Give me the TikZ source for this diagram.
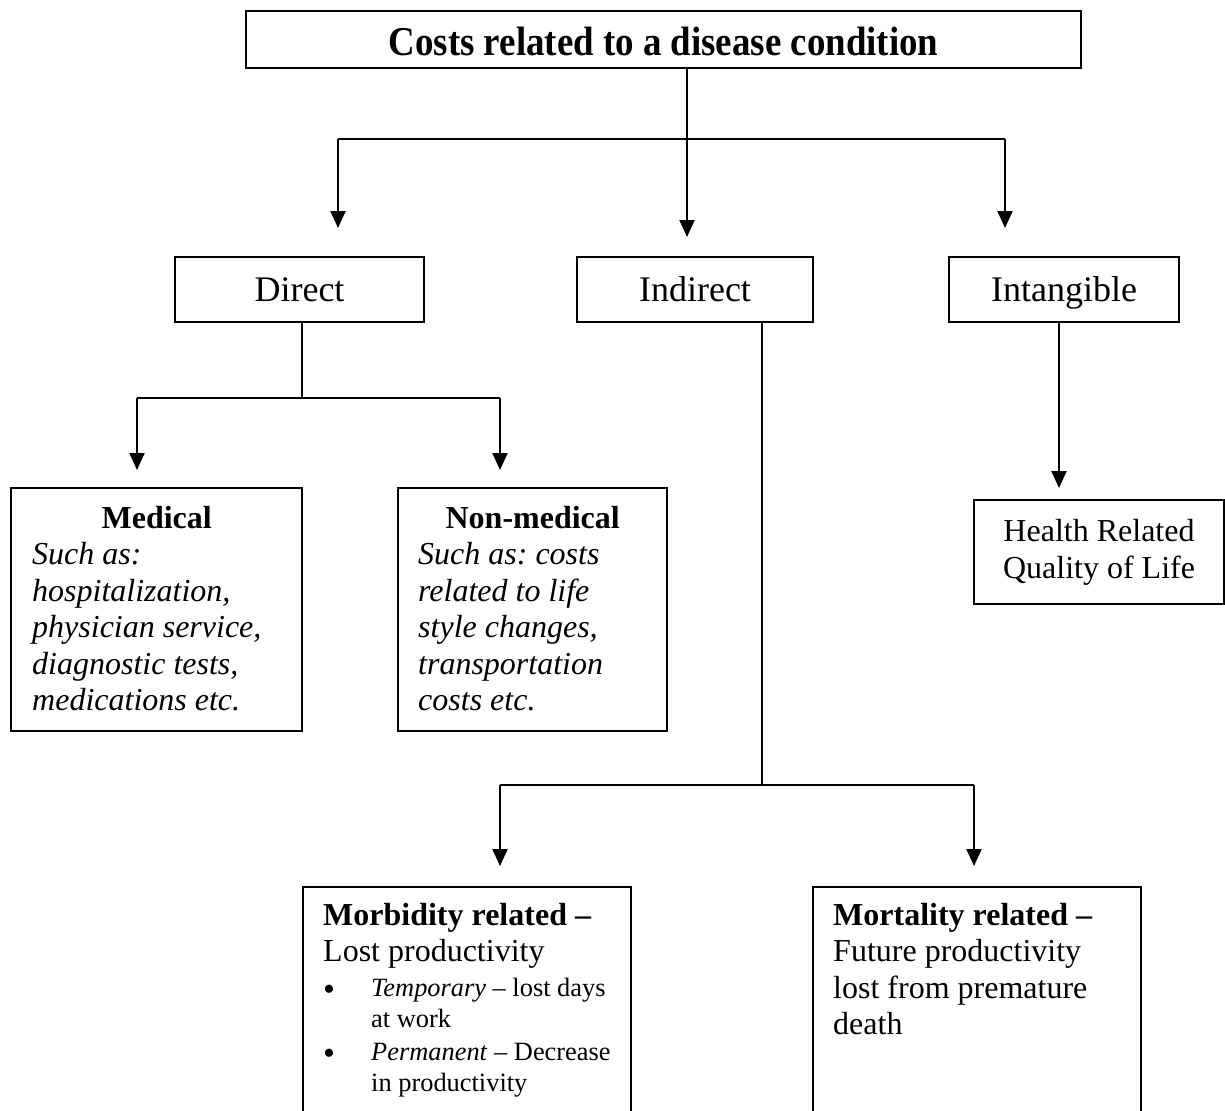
\documentclass[tikz,border=0pt]{standalone}
\usepackage{fontspec}
\setmainfont{Liberation Serif}
\newfontfamily\headfont[FakeStretch=0.9]{Liberation Serif}
\usetikzlibrary{arrows.meta}
% bullet for the list items
\newcommand{\blt}{\raisebox{-3.5pt}{\fontsize{34}{0}\selectfont\textbullet}}
% use the font's own interword spacing inside aligned nodes
\newcommand{\natspace}{\spaceskip=0pt\xspaceskip=0pt\relax}
\begin{document}
\begin{tikzpicture}[x=1pt,y=-1pt,
  box/.style={draw, line width=1.3pt, inner sep=0pt},
  headbox/.style={box, minimum height=65pt, font=\fontsize{36}{40}\selectfont,
                  text height=27pt, text depth=4pt},
  body/.style={inner sep=0pt, anchor=north west, align=left,
               font=\fontsize{32}{36.5}\selectfont\frenchspacing},
  stem/.style={line width=1.2pt},
  bar/.style={line width=1.5pt},
  arr/.style={line width=2.2pt, -{Triangle[length=17pt,width=15pt]}},
]
\useasboundingbox (0,0) rectangle (1225,1110);
\clip (0,0) rectangle (1225,1110);

% top box
\node[box, minimum width=835pt, minimum height=57pt, text height=33pt, text depth=0pt,
      font=\fontsize{41}{44}\selectfont\headfont\bfseries] (title) at (663.5,39.5)
      {Costs related to a disease condition};

% first level
\node[headbox, minimum width=249pt] (direct)     at (299.5,289.5) {Direct};
\node[headbox, minimum width=236pt] (indirect)   at (695,289.5)   {Indirect};
\node[headbox, minimum width=230pt] (intangible) at (1064,289.5)  {Intangible};

% direct costs
\node[box, minimum width=291pt, minimum height=243pt] (medical)    at (156.5,609.5) {};
\node[box, minimum width=269pt, minimum height=243pt] (nonmedical) at (532.5,609.5) {};
\node[body, text width=249pt] (medtext) at (32,506)
  {\natspace{\centering\textbf{Medical}\par}\raggedright\itshape
   Such as:\\hospitalization,\\physician service,\\diagnostic tests,\\medications etc.};
\node[body, text width=229pt] (nonmedtext) at (418,506)
  {\natspace{\centering\textbf{Non-medical}\par}\raggedright\itshape
   Such as: costs\\related to life\\style changes,\\transportation\\costs etc.};

% indirect costs
\node[box, minimum width=328pt, minimum height=300pt] (morbidity) at (467,1037) {};
\node[box, minimum width=328pt, minimum height=300pt] (mortality) at (977,1037) {};
\node[body, text width=300pt] (morbtext) at (323,903)
  {\natspace\raggedright\textbf{Morbidity related –}\\Lost productivity\par\vspace{4pt}
   {\fontsize{26.4}{31}\selectfont
    \makebox[48pt][l]{\blt}\textit{Temporary} – lost days\\
    \hspace*{48pt}at work\\[2pt]
    \makebox[48pt][l]{\blt}\textit{Permanent} – Decrease\\
    \hspace*{48pt}in productivity\par}};
\node[body, text width=300pt] (morttext) at (833,903)
  {\natspace\raggedright\textbf{Mortality related –}\\Future productivity\\lost from premature\\death};

% intangible costs
\node[box, minimum width=250pt, minimum height=104pt, align=center,
      font=\fontsize{32}{37}\selectfont] (hrql) at (1099,552)
      {\natspace Health Related\\Quality of Life};

% connectors from the top box
\coordinate (tj) at (687,139);
\coordinate (tl) at (338,139);
\coordinate (tr) at (1005,139);
\draw[stem] (title.south -| tj) -- (tj);
\draw[bar] (tl) -- (tr);
\draw[arr] (tl) -- (338,228);
\draw[arr] (tj) -- (687,237);
\draw[arr] (tr) -- (1005,228);

% connectors from Direct
\coordinate (dj) at (302,398);
\coordinate (dl) at (137,398);
\coordinate (dr) at (500,398);
\draw[stem] (direct.south -| dj) -- (dj);
\draw[bar] (dl) -- (dr);
\draw[arr] (dl) -- (137,470);
\draw[arr] (dr) -- (500,470);

% connectors from Indirect
\coordinate (ij) at (762,785);
\coordinate (il) at (500,785);
\coordinate (ir) at (974,785);
\draw[stem] (indirect.south -| ij) -- (ij);
\draw[bar] (il) -- (ir);
\draw[arr] (il) -- (500,866);
\draw[arr] (ir) -- (974,866);

% connector from Intangible
\coordinate (gs) at (1059,488);
\draw[arr] (intangible.south -| gs) -- (gs);
\end{tikzpicture}
\end{document}
